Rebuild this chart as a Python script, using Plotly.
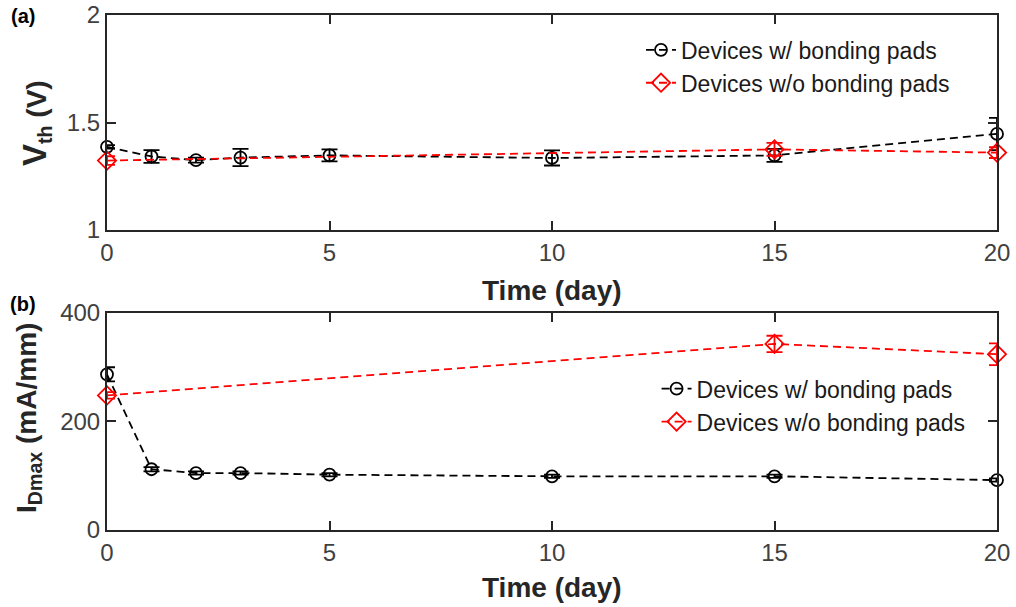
import plotly.graph_objects as go

# Threshold voltage over time
days_with = [0, 1, 2, 3, 5, 10, 15, 20]
vth_with = [1.387, 1.342, 1.325, 1.337, 1.347, 1.335, 1.347, 1.447]
vth_with_err = [0.008, 0.03, 0.012, 0.04, 0.028, 0.035, 0.03, 0.075]

days_without = [0, 15, 20]
vth_without = [1.323, 1.375, 1.36]
vth_without_err = [0.02, 0.03, 0.025]

# Maximum drain current over time
id_with = [287, 112, 105, 105, 102, 99, 99, 92]
id_with_err = [13, 4, 3, 3, 3, 3, 3, 3]
id_without = [248, 343, 324]
id_without_err = [6, 15, 20]

x_ticks = [0, 5, 10, 15, 20]
label_with = "Devices w/ bonding pads"
label_without = "Devices w/o bonding pads"

FONT = "Liberation Sans, Arial, sans-serif"
AXIS_COLOR = "#262626"
TICK_COLOR = "#404040"
BLACK = "#000000"
RED = "#ff0000"
DASH = "8px,5px"

fig = go.Figure()


def add_pair(xa, ya, legend, y_w, e_w, y_wo, e_wo):
    fig.add_trace(go.Scatter(
        x=days_with, y=y_w, name=label_with, xaxis=xa, yaxis=ya, legend=legend,
        mode="lines+markers", cliponaxis=False,
        line=dict(color=BLACK, width=1.8, dash=DASH),
        marker=dict(symbol="circle-open", size=12, color=BLACK, line=dict(width=1.8)),
        error_y=dict(type="data", array=e_w, color=BLACK, thickness=1.8, width=8),
    ))
    fig.add_trace(go.Scatter(
        x=days_without, y=y_wo, name=label_without, xaxis=xa, yaxis=ya, legend=legend,
        mode="lines+markers", cliponaxis=False,
        line=dict(color=RED, width=1.8, dash=DASH),
        marker=dict(symbol="diamond-open", size=14, color=RED, line=dict(width=1.8)),
        error_y=dict(type="data", array=e_wo, color=RED, thickness=1.8, width=8),
    ))


add_pair("x", "y", "legend", vth_with, vth_with_err, vth_without, vth_without_err)
add_pair("x2", "y2", "legend2", id_with, id_with_err, id_without, id_without_err)

axis_common = dict(
    showline=True, mirror="ticks", linecolor=AXIS_COLOR, linewidth=2,
    ticks="inside", ticklen=9, tickwidth=2, tickcolor=AXIS_COLOR,
    showgrid=False, zeroline=False, automargin=False,
    tickfont=dict(family=FONT, size=24, color=TICK_COLOR),
)

legend_common = dict(
    font=dict(family=FONT, size=23, color="#1a1a1a"),
    bgcolor="rgba(0,0,0,0)", borderwidth=0, tracegroupgap=0,
    xanchor="left", yanchor="top",
)

fig.update_layout(
    template="none",
    width=1016, height=607,
    margin=dict(l=107, r=19, t=15, b=77, autoexpand=False),
    paper_bgcolor="white", plot_bgcolor="white",
    font=dict(family=FONT),
    xaxis=dict(domain=[0, 1], anchor="y", range=[0, 20], tickvals=x_ticks, **axis_common),
    yaxis=dict(domain=[0.5825, 1], anchor="x", range=[1, 2], tickvals=[1, 1.5, 2],
               ticktext=["1", "1.5", "2"], **axis_common),
    xaxis2=dict(domain=[0, 1], anchor="y2", range=[0, 20], tickvals=x_ticks, **axis_common),
    yaxis2=dict(domain=[0, 0.4214], anchor="x2", range=[0, 400], tickvals=[0, 200, 400],
                **axis_common),
    legend=dict(x=0.6, y=0.974, **legend_common),
    legend2=dict(x=0.6175, y=0.316, **legend_common),
    showlegend=True,
)

title_font = dict(family=FONT, size=28, color="#262626")
panel_font = dict(family=FONT, size=20, color="#000000")

vth_title = ('<b><span style="font-size:33px">V</span><sub>th</sub> (V)</b>')
id_title = "<b>I<sub>Dmax</sub> (mA/mm)</b>"

annotations = [
    dict(text="<b>Time (day)</b>", x=0.5, y=0.465, font=title_font),
    dict(text="<b>Time (day)</b>", x=0.5, y=-0.112, font=title_font),
    dict(text=vth_title, x=-0.08, y=0.79, textangle=-90, font=title_font),
    dict(text=id_title, x=-0.088, y=0.217, textangle=-90, font=title_font),
    dict(text="<b>(a)</b>", x=-0.0944, y=0.998, font=panel_font),
    dict(text="<b>(b)</b>", x=-0.0944, y=0.439, font=panel_font),
]
for a in annotations:
    a.update(xref="paper", yref="paper", showarrow=False, xanchor="center", yanchor="middle")
fig.update_layout(annotations=annotations)

fig.write_html("out.html")
